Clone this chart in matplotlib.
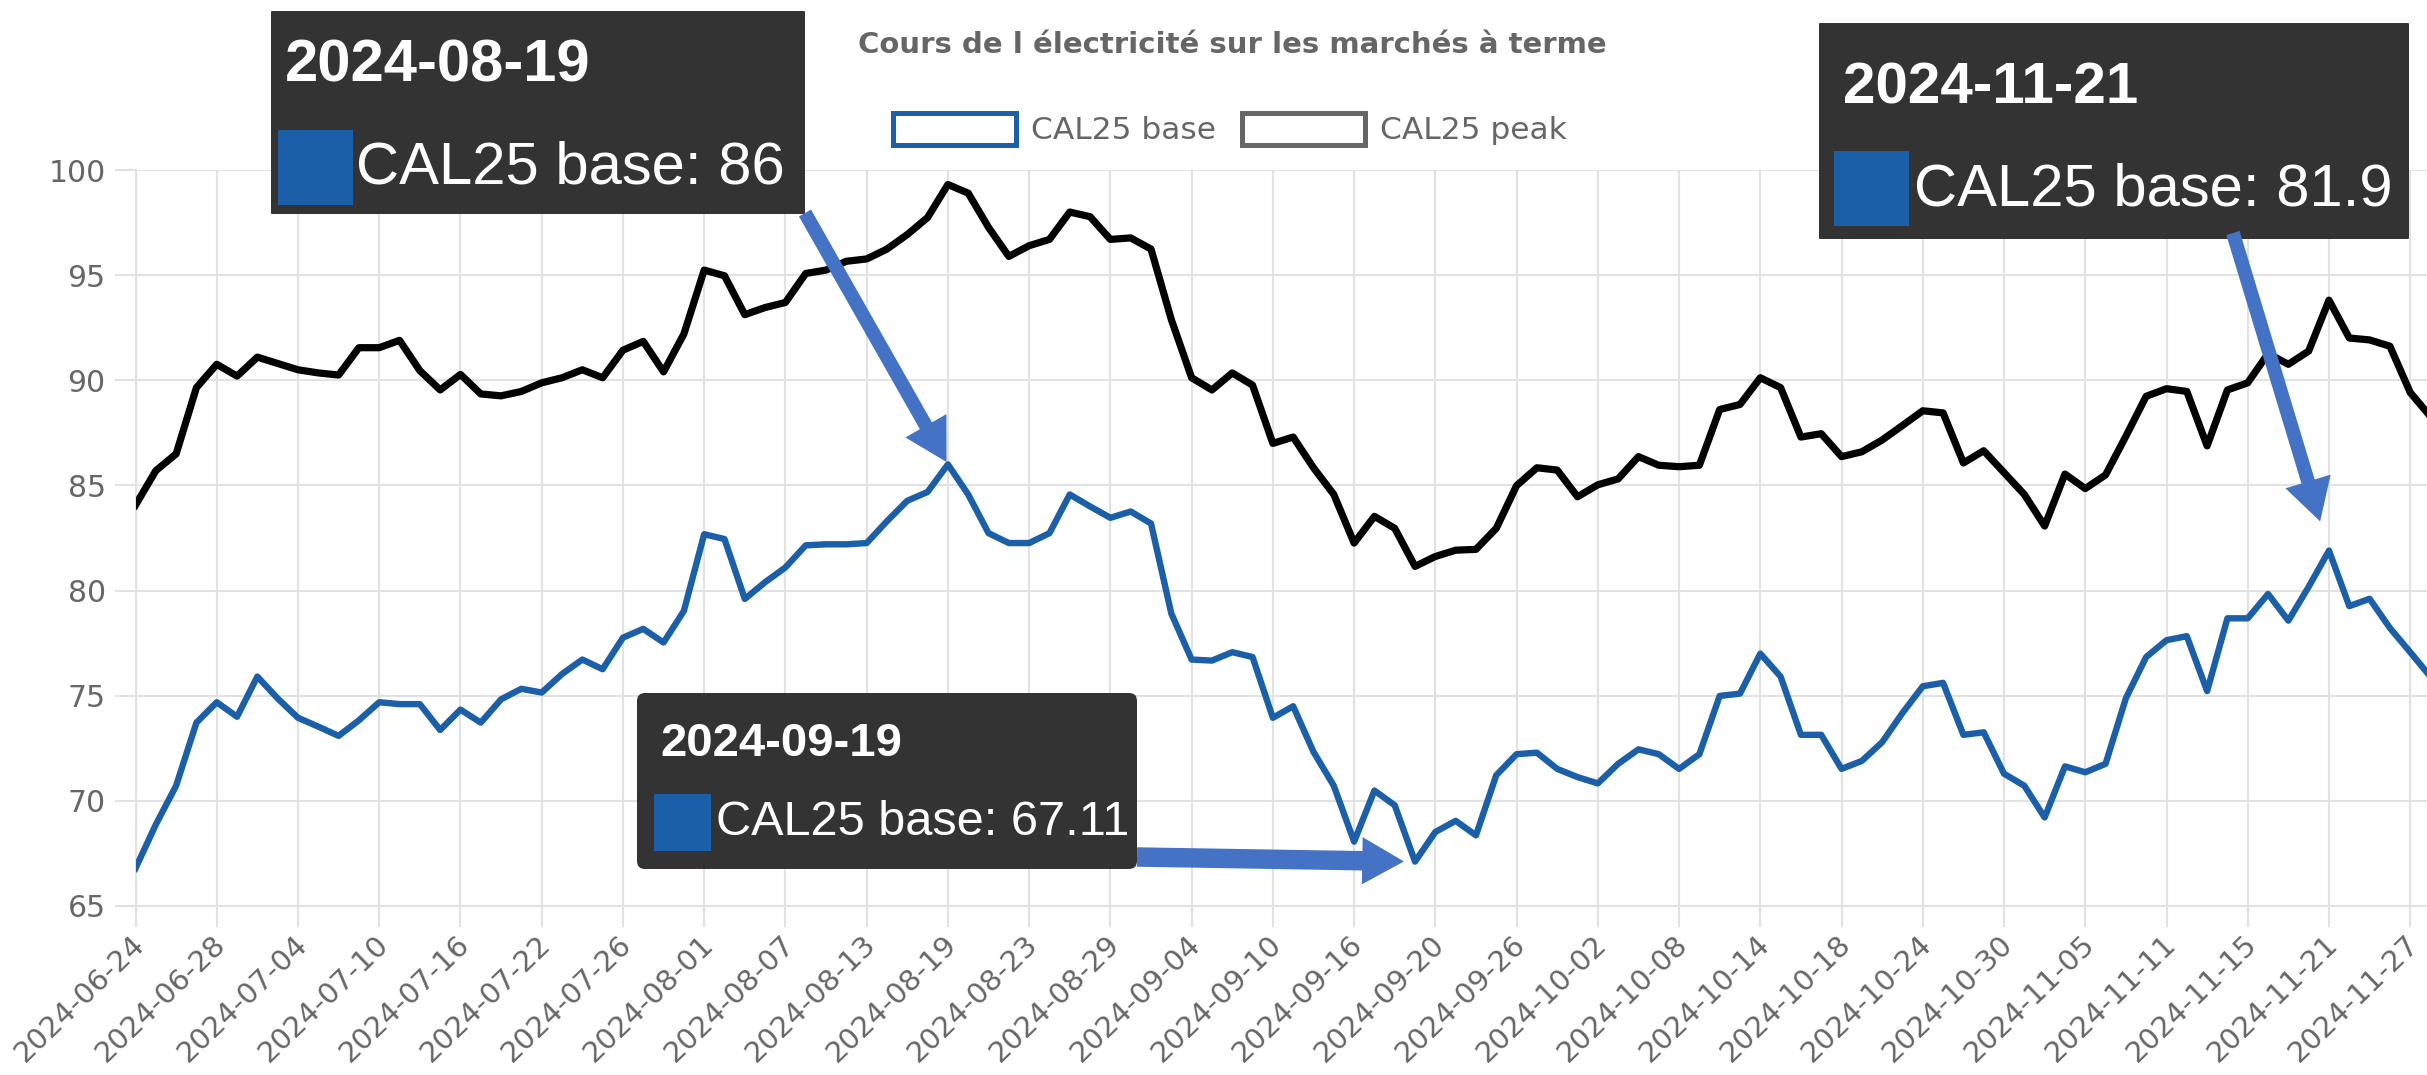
import matplotlib
matplotlib.use("Agg")
import matplotlib.pyplot as plt
import matplotlib.transforms as mtransforms
from matplotlib.patches import Patch, Rectangle, FancyBboxPatch
import pandas as pd

# trading days shown on the category axis
dates = pd.bdate_range("2024-06-24", "2024-11-28").strftime("%Y-%m-%d").tolist()

base = [66.79, 68.87, 70.72, 73.72, 74.69, 74.0, 75.91, 74.87, 73.95, 73.53,
        73.09, 73.83, 74.69, 74.6, 74.6, 73.37, 74.34, 73.72, 74.83, 75.33,
        75.15, 76.03, 76.72, 76.26, 77.76, 78.18, 77.53, 79.03, 82.68, 82.45,
        79.6, 80.4, 81.1, 82.15, 82.2, 82.2, 82.26, 83.3, 84.27, 84.69,
        86.0, 84.57, 82.73, 82.26, 82.26, 82.73, 84.57, 84.0, 83.46, 83.76,
        83.19, 78.91, 76.72, 76.67, 77.07, 76.84, 73.95, 74.5, 72.33, 70.72,
        68.06, 70.49, 69.79, 67.11, 68.52, 69.05, 68.36, 71.22, 72.22, 72.29,
        71.52, 71.13, 70.83, 71.76, 72.45, 72.22, 71.52, 72.22, 74.99, 75.1,
        77.0, 75.91, 73.14, 73.14, 71.52, 71.9, 72.79, 74.18, 75.45, 75.61,
        73.14, 73.26, 71.29, 70.72, 69.21, 71.64, 71.36, 71.76, 74.88, 76.84,
        77.64, 77.83, 75.22, 78.68, 78.68, 79.84, 78.57, 80.18, 81.9, 79.26,
        79.61, 78.22, 77.07, 75.9]

peak = [84.06, 85.7, 86.5, 89.65, 90.76, 90.2, 91.1, 90.8, 90.5, 90.35,
        90.25, 91.55, 91.55, 91.9, 90.46, 89.54, 90.28, 89.35, 89.26, 89.47,
        89.88, 90.12, 90.5, 90.12, 91.43, 91.85, 90.4, 92.2, 95.24, 94.97,
        93.12, 93.46, 93.7, 95.08, 95.24, 95.66, 95.77, 96.24, 96.93, 97.74,
        99.31, 98.9, 97.27, 95.89, 96.4, 96.7, 98.0, 97.78, 96.7, 96.77,
        96.24, 92.89, 90.12, 89.54, 90.35, 89.77, 87.0, 87.3, 85.84, 84.57,
        82.26, 83.53, 82.96, 81.15, 81.62, 81.92, 81.96, 82.96, 84.99, 85.84,
        85.73, 84.46, 85.03, 85.31, 86.37, 85.96, 85.89, 85.96, 88.61, 88.85,
        90.12, 89.65, 87.3, 87.46, 86.37, 86.6, 87.16, 87.85, 88.55, 88.45,
        86.07, 86.65, 85.61, 84.57, 83.07, 85.54, 84.85, 85.5, 87.34, 89.24,
        89.6, 89.47, 86.88, 89.54, 89.88, 91.27, 90.76, 91.39, 93.81, 92.01,
        91.92, 91.62, 89.42, 88.27]

tick_idx = list(range(0, 113, 4))
yticks = [65, 70, 75, 80, 85, 90, 95, 100]
title = "Cours de l électricité sur les marchés à terme"
names = ["CAL25 base", "CAL25 peak"]
tooltip_idx = [40, 63, 108]

BLUE = "#1a5fa8"
GRID = "#e2e2e2"
GREY = "#666666"
ARROW = "#4472c4"

W, H = 2427, 1075
fig = plt.figure(figsize=(W / 100, H / 100), dpi=100)
# pixel coordinates measured from the top-left corner
px = mtransforms.Affine2D().scale(1 / W, -1 / H).translate(0, 1) + fig.transFigure

ax = fig.add_axes([135.5 / W, 1 - 906 / H, (W - 135.5) / W, (906 - 170) / H])
x = list(range(len(dates)))
ax.plot(x, base, color=BLUE, lw=4.6, solid_joinstyle="round", zorder=3)
ax.plot(x, peak, color="black", lw=5.2, solid_joinstyle="round", zorder=3)

ax.set_xlim(0, (W - 135.5) / 20.31)
ax.set_ylim(65, 100)
ax.set_xticks(tick_idx)
ax.set_xticklabels([dates[i] for i in tick_idx])
ax.set_yticks(yticks)
ax.grid(True, color=GRID, lw=1.5)
ax.set_axisbelow(True)
for s in ["top", "right"]:
    ax.spines[s].set_visible(False)
for s in ["left", "bottom"]:
    ax.spines[s].set_color(GRID)
    ax.spines[s].set_linewidth(1.5)
ax.tick_params(axis="both", color=GRID, width=1.5, length=15,
               labelcolor=GREY, labelsize=21.5)
ax.tick_params(axis="y", pad=6.5)
ax.tick_params(axis="x", pad=9.5, labelsize=21)
plt.setp(ax.get_xticklabels(), rotation=44, ha="right", va="center",
         rotation_mode="anchor")
shift = mtransforms.ScaledTranslation(0.05, 0, fig.dpi_scale_trans)
for lab in ax.get_xticklabels():
    lab.set_transform(lab.get_transform() + shift)

fig.text(1232, 53, title, transform=px, ha="center", va="baseline",
         fontsize=21, fontweight="bold", color=GREY)

handles = [Patch(facecolor="white", edgecolor=BLUE, lw=3.6),
           Patch(facecolor="white", edgecolor=GREY, lw=3.6)]
leg = fig.legend(handles, names, loc="center", bbox_to_anchor=(1230 / W, 1 - 129 / H),
                 ncol=2, frameon=False, fontsize=22.5, handlelength=3.94,
                 handleheight=1.22, handletextpad=0.48, columnspacing=0.83,
                 borderpad=0, borderaxespad=0)
for t in leg.get_texts():
    t.set_color(GREY)

# tooltip layout: box, colour square, date (x, baseline, size), line (x, baseline, size)
boxes = [(271, 11, 805, 214), (637, 693, 1137, 869), (1819, 23, 2409, 239)]
squares = [(278, 130, 75), (654, 794, 57), (1834, 151, 75)]
date_pos = [(285, 82, 43), (660, 756, 34), (1843, 103, 42)]
line_pos = [(356, 183, 43), (716, 835, 35), (1914, 206, 43)]
tails = [(805, 213), (1137, 857), (2233, 233)]
shrink = [2, 8, 22]
tail_w = [10, 14, 10]

for k, i in enumerate(tooltip_idx):
    x0, y0, x1, y1 = boxes[k]
    box = FancyBboxPatch((x0, y0), x1 - x0, y1 - y0,
                         boxstyle="round,pad=0,rounding_size=%d" % (8 if k == 1 else 1),
                         transform=px, facecolor="#333333", edgecolor="none",
                         zorder=6, clip_on=False)
    ax.add_patch(box)
    sx, sy, ss = squares[k]
    ax.add_patch(Rectangle((sx, sy), ss, ss, transform=px, facecolor=BLUE,
                           edgecolor="none", zorder=7, clip_on=False))
    dx, dy, dsz = date_pos[k]
    ax.text(dx, dy, dates[i], transform=px, ha="left", va="baseline",
            fontsize=dsz, fontweight="bold", color="white",
            family="Liberation Sans", zorder=8)
    lx, ly, lsz = line_pos[k]
    ax.text(lx, ly, f"{names[0]}: {base[i]:g}", transform=px, ha="left",
            va="baseline", fontsize=lsz, color="white",
            family="Liberation Sans", zorder=8)
    style = "simple,head_length=30,head_width=34,tail_width=%g" % tail_w[k]
    ax.annotate("", xy=(i, base[i]), xycoords="data", xytext=tails[k],
                textcoords=px, annotation_clip=False, zorder=9,
                arrowprops=dict(arrowstyle=style, mutation_scale=1, color=ARROW,
                                lw=0, shrinkA=0, shrinkB=shrink[k]))

fig.savefig("out.png", dpi=100)
